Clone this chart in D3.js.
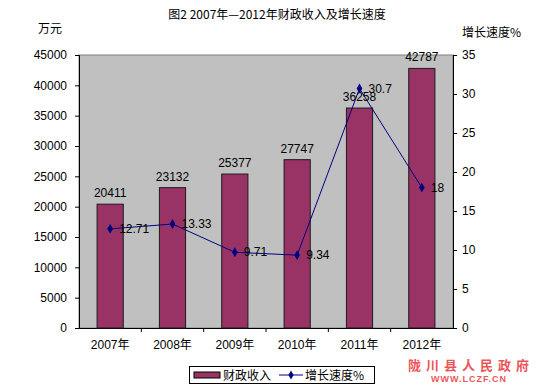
<!DOCTYPE html>
<html>
<head>
<meta charset="utf-8">
<script src="https://cdn.jsdelivr.net/npm/d3@7"></script>
<style>
  body { margin: 0; background: #fff; }
  svg text { font-family: "Liberation Sans", Arial, "Noto Sans CJK SC", sans-serif; }
</style>
</head>
<body>
<svg id="canvas" width="550" height="389"></svg>
<script>
// chart data
var years = ["2007年", "2008年", "2009年", "2010年", "2011年", "2012年"];
var revenue = [20411, 23132, 25377, 27747, 36258, 42787];
var growth = [12.71, 13.33, 9.71, 9.34, 30.7, 18];
var leftTicks = [0, 5000, 10000, 15000, 20000, 25000, 30000, 35000, 40000, 45000];
var rightTicks = [0, 5, 10, 15, 20, 25, 30, 35];

var svg = d3.select("#canvas");
var plot = { left: 79, right: 453, top: 55, bottom: 328 };
var cjk = '"Noto Sans CJK SC", sans-serif';

var x = d3.scaleBand().domain(years).range([plot.left, plot.right]);
var yL = d3.scaleLinear().domain([0, 45000]).range([plot.bottom, plot.top]);
var yR = d3.scaleLinear().domain([0, 35]).range([plot.bottom, plot.top]);

// plot background
svg.append("rect")
  .attr("x", plot.left).attr("y", plot.top)
  .attr("width", plot.right - plot.left).attr("height", plot.bottom - plot.top)
  .attr("fill", "#c0c0c0").attr("stroke", "#808080").attr("stroke-width", 1);

// title
svg.append("text")
  .attr("x", 277).attr("y", 19)
  .attr("text-anchor", "middle")
  .style("font-family", cjk)
  .style("font-size", "12px")
  .text("图2  2007年—2012年财政收入及增长速度");

svg.append("text").attr("x", 38).attr("y", 33)
  .style("font-family", cjk).style("font-size", "12px").text("万元");
svg.append("text").attr("x", 462).attr("y", 37)
  .style("font-family", cjk).style("font-size", "12px").text("增长速度%");

// axes
var leftAxis = svg.append("g")
  .attr("transform", "translate(" + plot.left + ",0)")
  .call(d3.axisLeft(yL).tickValues(leftTicks).tickSize(4).tickPadding(8).tickFormat(d3.format("d")));
var rightAxis = svg.append("g")
  .attr("transform", "translate(" + plot.right + ",0)")
  .call(d3.axisRight(yR).tickValues(rightTicks).tickSize(4).tickPadding(5));
var bottomAxis = svg.append("g")
  .attr("transform", "translate(0," + plot.bottom + ")")
  .call(d3.axisBottom(x).tickSize(0).tickPadding(12));

[leftAxis, rightAxis, bottomAxis].forEach(function(g) {
  g.selectAll("path.domain").attr("stroke", "#000");
  g.selectAll("line").attr("stroke", "#000");
  g.selectAll("text").style("font-size", "12px").attr("fill", "#000");
});
bottomAxis.selectAll("text").style("font-family", '"Liberation Sans", "Noto Sans CJK SC", sans-serif');

// category separator ticks on the x axis
svg.append("g").selectAll("line")
  .data(years.slice(1))
  .enter().append("line")
  .attr("x1", function(d) { return x(d); })
  .attr("x2", function(d) { return x(d); })
  .attr("y1", plot.bottom).attr("y2", plot.bottom + 4)
  .attr("stroke", "#000");

// bars
var barW = x.bandwidth() * 0.42;
svg.append("g").selectAll("rect")
  .data(revenue)
  .enter().append("rect")
  .attr("x", function(d, i) { return x(years[i]) + (x.bandwidth() - barW) / 2; })
  .attr("y", function(d) { return yL(d); })
  .attr("width", barW)
  .attr("height", function(d) { return plot.bottom - yL(d); })
  .attr("fill", "#993366")
  .attr("stroke", "#1a1a1a")
  .attr("stroke-width", 1);

// bar labels
svg.append("g").selectAll("text")
  .data(revenue)
  .enter().append("text")
  .attr("x", function(d, i) { return x(years[i]) + x.bandwidth() / 2; })
  .attr("y", function(d) { return yL(d) - 7; })
  .attr("text-anchor", "middle")
  .style("font-size", "12px")
  .text(function(d) { return d; });

// growth line
var cx = function(d, i) { return x(years[i]) + x.bandwidth() / 2; };
var line = d3.line()
  .x(cx)
  .y(function(d) { return yR(d); });
svg.append("path")
  .datum(growth)
  .attr("d", line)
  .attr("fill", "none")
  .attr("stroke", "#000080")
  .attr("stroke-width", 1);

svg.append("g").selectAll("path")
  .data(growth)
  .enter().append("path")
  .attr("d", d3.symbol().type(d3.symbolDiamond).size(28))
  .attr("transform", function(d, i) { return "translate(" + cx(d, i) + "," + yR(d) + ")"; })
  .attr("fill", "#000080");

svg.append("g").selectAll("text")
  .data(growth)
  .enter().append("text")
  .attr("x", function(d, i) { return cx(d, i) + 9; })
  .attr("y", function(d) { return yR(d) + 4; })
  .style("font-size", "12px")
  .text(function(d) { return d; });

// legend
var lg = svg.append("g");
lg.append("rect").attr("x", 189.5).attr("y", 366.5).attr("width", 185).attr("height", 17)
  .attr("fill", "#fff").attr("stroke", "#000");
lg.append("rect").attr("x", 194).attr("y", 372).attr("width", 26).attr("height", 6)
  .attr("fill", "#993366").attr("stroke", "#000");
lg.append("text").attr("x", 223).attr("y", 379.5)
  .style("font-family", cjk).style("font-size", "12px").text("财政收入");
lg.append("line").attr("x1", 279).attr("x2", 303).attr("y1", 375).attr("y2", 375)
  .attr("stroke", "#000080");
lg.append("path").attr("d", d3.symbol().type(d3.symbolDiamond).size(24))
  .attr("transform", "translate(291,375)").attr("fill", "#000080");
lg.append("text").attr("x", 305).attr("y", 379.5)
  .style("font-family", cjk).style("font-size", "12px").text("增长速度%");

// watermark
svg.append("text").attr("x", 471).attr("y", 370).attr("text-anchor", "middle")
  .style("font-family", cjk).style("font-size", "13px").style("font-weight", "bold")
  .attr("fill", "#e8383c").attr("opacity", 0.85).attr("letter-spacing", "5")
  .text("陇川县人民政府");
svg.append("text").attr("x", 469).attr("y", 382).attr("text-anchor", "middle")
  .style("font-size", "9px").style("font-weight", "bold")
  .attr("fill", "#e8383c").attr("opacity", 0.85).attr("letter-spacing", "1")
  .text("WWW.LCZF.CN");
</script>
</body>
</html>
